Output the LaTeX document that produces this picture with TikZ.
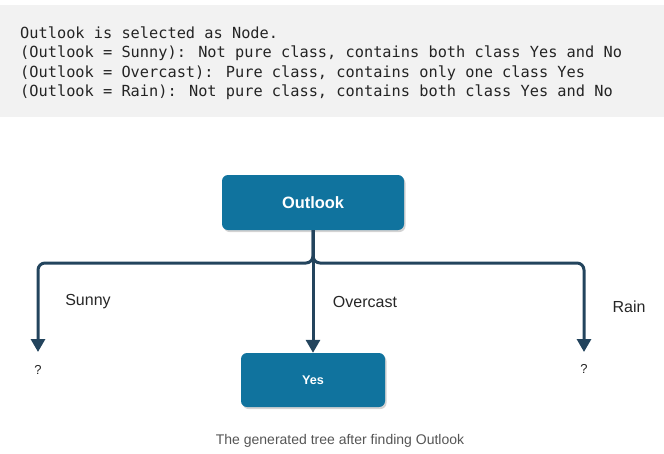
\documentclass[tikz,border=0pt]{standalone}
\usepackage{fontspec}
\setmainfont{Liberation Sans}
\newfontfamily\codefont{DejaVu Sans Mono}
\usetikzlibrary{arrows.meta,shadows}
\definecolor{codebg}{HTML}{F2F2F2}
\definecolor{codetext}{HTML}{242424}
\definecolor{boxfill}{HTML}{10739E}
\definecolor{linecol}{HTML}{23445D}
\definecolor{captioncol}{HTML}{555555}
\tikzset{
  codeline/.style={anchor=base west, inner sep=0pt, font=\codefont\fontsize{15.3}{18}\selectfont, text=codetext},
  treebox/.style={draw=none, fill=boxfill, rounded corners=6pt, text=white, font=\bfseries,
    drop shadow={opacity=0.35, shadow xshift=1.5pt, shadow yshift=-2pt}},
  conn/.style={draw=linecol, line width=3pt, rounded corners=7pt,
    -{Triangle[width=14pt,length=13pt]}},
  branchlabel/.style={inner sep=0pt, font=\fontsize{16}{18}\selectfont, text=black!85},
  qmark/.style={inner sep=0pt, font=\fontsize{13}{15}\selectfont, text=black!85},
}
\begin{document}
\begin{tikzpicture}[x=1pt,y=-1pt]
\useasboundingbox (0,0) rectangle (664,453);
\fill[codebg] (0,5) rectangle (664,117);
\node[codeline] (l1) at (20,38) {Outlook is selected as Node.};
\node[codeline] (l2) at (20,57.5) {(Outlook = Sunny): Not pure class, contains both class Yes and No};
\node[codeline] (l3) at (20,77) {(Outlook = Overcast): Pure class, contains only one class Yes};
\node[codeline] (l4) at (20,96.3) {(Outlook = Rain): Not pure class, contains both class Yes and No};

\node[treebox, minimum width=182pt, minimum height=55pt, font=\bfseries\fontsize{16.4}{18}\selectfont] (o) at (313,202.5) {Outlook};
\node[treebox, minimum width=144pt, minimum height=54pt, font=\bfseries\fontsize{12.6}{14}\selectfont] (yes) at (313,380) {Yes};

\coordinate (hl) at (38,263);
\coordinate (hr) at (584,263);
\coordinate (tl) at (38,352);
\coordinate (tr) at (584,352);
\draw[conn] (o.south) |- (hl) -- (tl);
\draw[conn] (o.south) |- (hr) -- (tr);
\draw[conn] (o.south) -- (yes.north);

\node[branchlabel] (sunny) at (88,302) {Sunny};
\node[branchlabel] (overcast) at (365,302) {Overcast};
\node[branchlabel] (rain) at (629,307) {Rain};
\node[qmark] (ql) at (38,370) {?};
\node[qmark] (qr) at (584,369) {?};

\node[inner sep=0pt, font=\fontsize{14}{16}\selectfont, text=captioncol] (cap) at (340,441) {The generated tree after finding Outlook};
\end{tikzpicture}
\end{document}
